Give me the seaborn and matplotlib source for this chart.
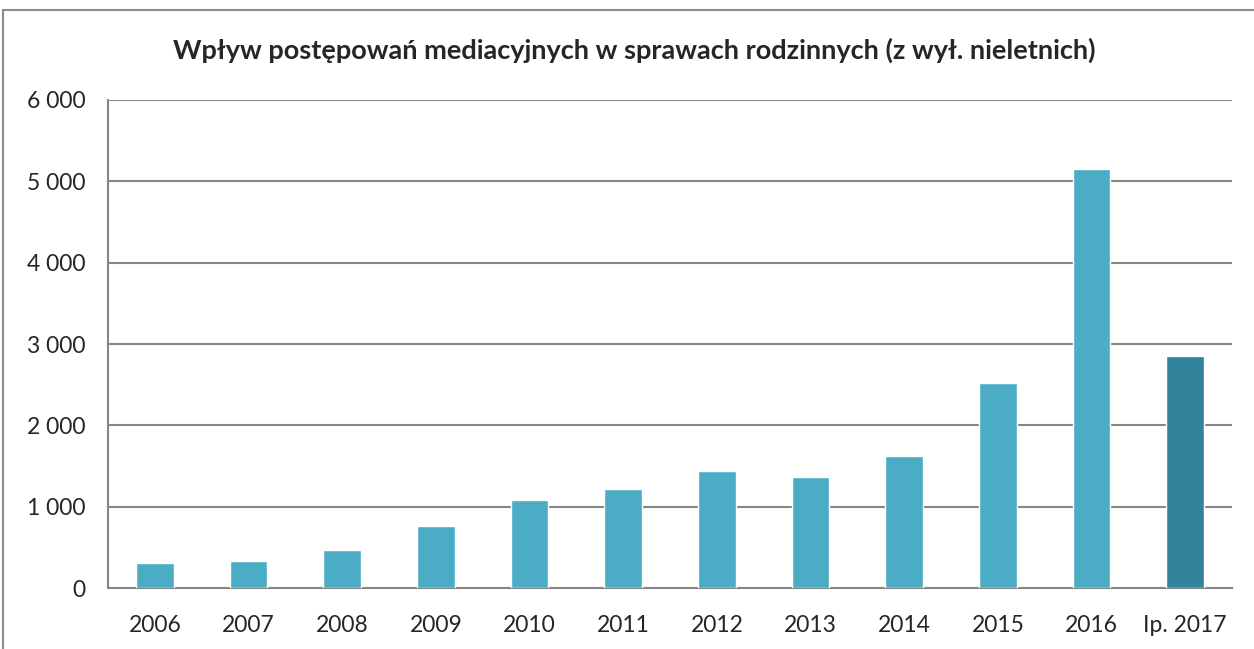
import matplotlib
matplotlib.use("Agg")
import matplotlib.pyplot as plt
import matplotlib.ticker as mticker
from matplotlib.patches import Rectangle
import seaborn as sns
import pandas as pd

# data
years = ["2006", "2007", "2008", "2009", "2010", "2011",
         "2012", "2013", "2014", "2015", "2016", "Ip. 2017"]
cases = [311, 335, 470, 767, 1085, 1220, 1441, 1371, 1625, 2526, 5147, 2854]
bar_colors = ["#4BACC6"] * 11 + ["#31849B"]

title = "Wpływ postępowań mediacyjnych w sprawach rodzinnych (z wył. nieletnich)"

sns.set_style("white")
plt.rcParams["font.family"] = ["Lato", "DejaVu Sans"]

df = pd.DataFrame({"rok": years, "liczba": cases})

fig = plt.figure(figsize=(12.54, 6.49), dpi=100)
ax = fig.add_axes([108 / 1254, 1 - 588.3 / 649, (1232 - 108) / 1254, (588.3 - 99.9) / 649])

sns.barplot(data=df, x="rok", y="liczba", hue="rok", palette=bar_colors,
            legend=False, width=0.4, saturation=1, ax=ax, zorder=3)

grey = "#868686"
ax.set_ylim(0, 6000)
ax.set_xlim(-0.5, len(years) - 0.5)
ax.yaxis.set_major_locator(mticker.MultipleLocator(1000))
ax.yaxis.set_major_formatter(mticker.FuncFormatter(lambda v, p: f"{int(v):,}".replace(",", " ")))
ax.grid(axis="y", color=grey, linewidth=1.5, zorder=0)
ax.set_axisbelow(True)

for side in ["top", "right"]:
    ax.spines[side].set_visible(False)
for side in ["left", "bottom"]:
    ax.spines[side].set_color(grey)
    ax.spines[side].set_linewidth(1.5)

ax.set_xticks([i - 0.5 for i in range(len(years) + 1)], minor=True)
ax.tick_params(axis="x", which="major", length=0, pad=19, labelsize=16.5)
ax.tick_params(axis="x", which="minor", length=7, width=1.5, color=grey, direction="out")
ax.tick_params(axis="y", length=7, width=1.5, color=grey, direction="out", pad=9, labelsize=16.5)
ax.set_xlabel("")
ax.set_ylabel("")

fig.text(0.506, 1 - 50 / 649, title, ha="center", va="center",
         fontsize=19.5, fontweight="bold")

# chart area frame
fig.patches.append(Rectangle((3 / 1254, -0.1), 1.2, 1 - 10 / 649 + 0.1,
                             transform=fig.transFigure, fill=False,
                             edgecolor="#8C8C8C", linewidth=1.5))

fig.savefig("out.png", dpi=100)
